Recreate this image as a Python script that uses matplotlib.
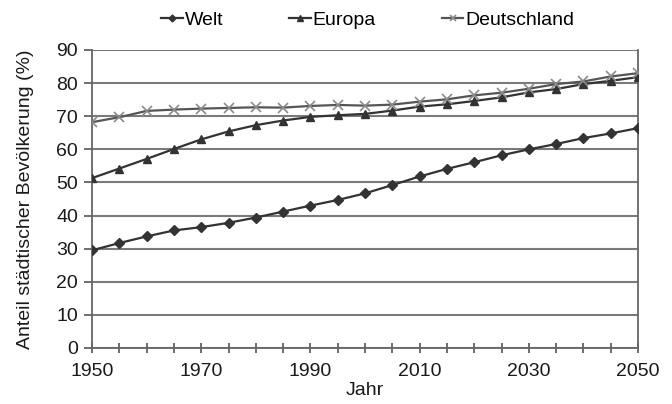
import numpy as np
import matplotlib.pyplot as plt

plt.rcParams['font.family'] = ['Liberation Sans', 'DejaVu Sans']

# ---------------------------------------------------------
# Data
# ---------------------------------------------------------
years = np.arange(1950, 2051, 5)

welt = [29.5, 31.7, 33.7, 35.5, 36.5, 37.8, 39.4, 41.2, 43.0, 44.7, 46.7,
        49.2, 51.8, 54.1, 56.1, 58.2, 60.0, 61.6, 63.4, 64.8, 66.4]
europa = [51.3, 54.2, 57.1, 60.1, 63.0, 65.4, 67.3, 68.7, 69.8, 70.3, 70.7,
          71.7, 72.9, 73.6, 74.6, 75.7, 77.2, 78.2, 79.7, 80.7, 81.8]
deutschland = [68.2, 69.7, 71.6, 72.0, 72.3, 72.5, 72.7, 72.6, 73.1, 73.4, 73.2,
               73.5, 74.4, 75.1, 76.3, 77.1, 78.3, 79.7, 80.5, 82.0, 83.0]

# ---------------------------------------------------------
# Plot
# ---------------------------------------------------------
fig = plt.figure(figsize=(6.72, 4.04), dpi=100)
ax = fig.add_axes([92 / 672, 1 - 348 / 404, (638 - 92) / 672, (348 - 50) / 404])

ax.plot(years, welt, color='#333333', linewidth=1.6, marker='D', markersize=5,
        label='Welt', zorder=3)
ax.plot(years, europa, color='#333333', linewidth=1.6, marker='^', markersize=6,
        label='Europa', zorder=3)
ax.plot(years, deutschland, color='#555555', linewidth=1.6, marker='x', markersize=7,
        markeredgecolor='#8a8a8a', markeredgewidth=1.2, label='Deutschland', zorder=3)

ax.set_xlim(1950, 2050)
ax.set_ylim(0, 90)
ax.set_xticks(np.arange(1950, 2051, 20))
ax.set_xticks(years, minor=True)
ax.set_yticks(np.arange(0, 91, 10))

ax.yaxis.grid(True, color='#7a7a7a', linewidth=1.5)
ax.set_axisbelow(True)

ax.spines['top'].set_visible(False)
for side in ['left', 'right', 'bottom']:
    ax.spines[side].set_color('#666666')
    ax.spines[side].set_linewidth(1.3)

ax.tick_params(axis='both', which='both', color='#555555', labelsize=14,
               width=1.2, labelcolor='#1a1a1a')
ax.tick_params(axis='x', which='both', direction='inout', length=7, pad=7)
ax.tick_params(axis='y', direction='out', length=6, pad=4)

ax.set_xlabel("Jahr", fontsize=14, labelpad=2, color='#1a1a1a')
ax.set_ylabel("Anteil städtischer Bevölkerung (%)", fontsize=14, labelpad=16,
              color='#1a1a1a')

ax.legend(loc='lower center', bbox_to_anchor=(0.505, 1.0), ncol=3, frameon=False,
          fontsize=14, handlelength=1.1, handletextpad=0.1, columnspacing=3.4,
          borderaxespad=0.7, markerscale=0.7)

plt.savefig('out.png', dpi=100)
